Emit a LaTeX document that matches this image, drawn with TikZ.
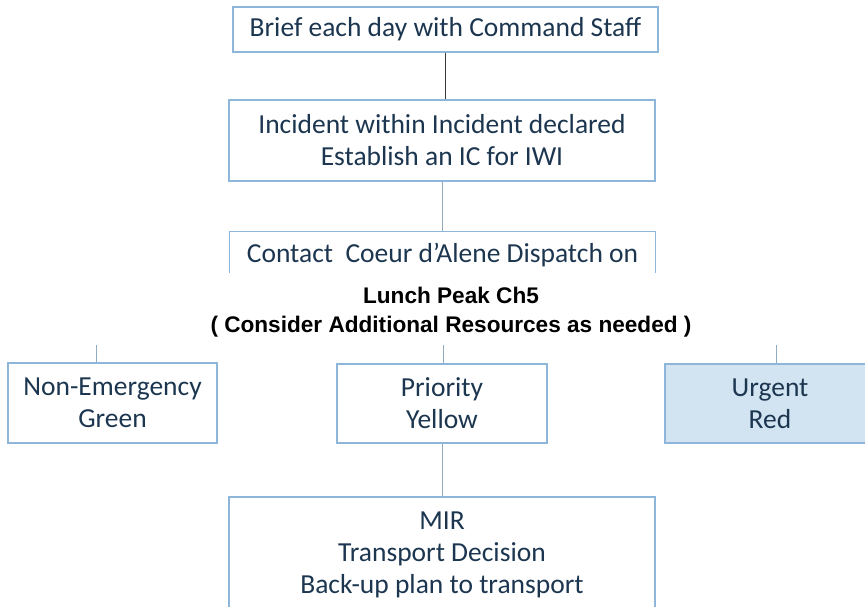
\documentclass[tikz,border=0pt]{standalone}
\usepackage{fontspec}
\usepackage{tikz}
\usetikzlibrary{calc,positioning}
\setmainfont{Carlito}
\newfontfamily\arialfont{Liberation Sans}
\newcommand{\BOXFONT}{\fontsize{27.5}{32}\selectfont}
\newcommand{\NOTEFONT}{\fontsize{22.6}{29}\selectfont\arialfont\bfseries}
\newcommand{\LINEPT}{1.2pt}
\definecolor{myedge}{HTML}{8DB6DA}
\definecolor{mytext}{HTML}{1C3650}
\definecolor{myfill}{HTML}{D2E4F2}
\definecolor{mylink}{HTML}{8FA9BF}
\definecolor{mydark}{HTML}{3A3A3A}

\begin{document}
\begin{tikzpicture}[x=1pt,y=-1pt,
	flowbox/.style={draw=myedge,line width=\LINEPT,text=mytext,align=center,inner sep=0pt,font=\BOXFONT},
	link/.style={draw=mylink,line width=0.8pt}]

		\useasboundingbox (0,0) rectangle (865,607);
		\clip (0,0) rectangle (865,607);

		%% top chain
		\node[flowbox,minimum width=425,minimum height=45] (brief) at (445.5,29.5) {Brief each day with Command Staff};
		\node[flowbox,minimum width=426,minimum height=81] (incident) at (442,140.5) {Incident within Incident declared\\Establish an IC for IWI};
		\node[flowbox,draw=none,minimum width=425,minimum height=40] (contact) at (442.5,252) {};
		\node[text=mytext,font=\BOXFONT,inner sep=0pt] (contacttext) at (442.5,255) {Contact\ \ Coeur d’Alene Dispatch on};
		\draw[myedge,line width=\LINEPT] (contact.south west) |- (contact.north) -| (contact.south east);

		\draw[mydark,line width=1pt] (brief.south) -- (brief.south |- incident.north);
		\draw[link] (incident.south) -- (incident.south |- contact.north);

		%% note
		\node[align=center,inner sep=0pt,font=\NOTEFONT] (note) at (451,312) {Lunch Peak Ch5\\( Consider Additional Resources as needed )};

		%% triage boxes
		\node[flowbox,minimum width=209,minimum height=80] (green) at (112.5,403) {Non-Emergency\\Green};
		\node[flowbox,minimum width=210,minimum height=79] (yellow) at (442,403.5) {Priority\\Yellow};
		\node[flowbox,fill=myfill,minimum width=210,minimum height=79] (red) at (770,403.5) {Urgent\\Red};

		\coordinate (s1) at (96,345);
		\coordinate (s2) at (443,345);
		\coordinate (s3) at (776,345);
		\draw[link] (s1) -- (s1 |- green.north);
		\draw[link] (s2) -- (s2 |- yellow.north);
		\draw[link] (s3) -- (s3 |- red.north);

		%% transport
		\node[flowbox,minimum width=426,minimum height=115] (mir) at (442,554.5) {MIR\\Transport Decision\\Back-up plan to transport};
		\draw[link] (yellow.south) -- (yellow.south |- mir.north);

	\end{tikzpicture}
\end{document}
